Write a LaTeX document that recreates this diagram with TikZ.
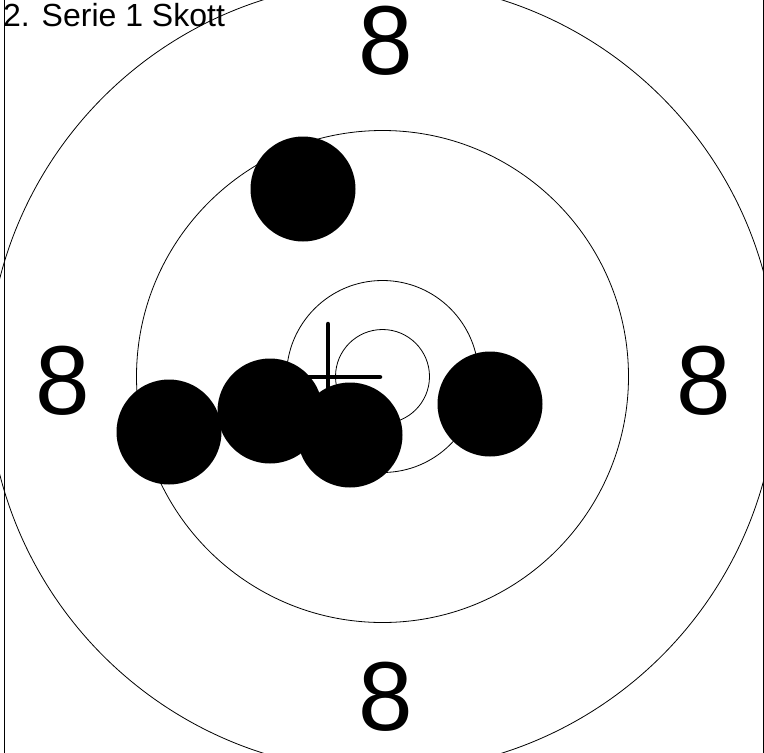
\documentclass[tikz,border=0pt]{standalone}
\usepackage{fontspec}
\setmainfont{Liberation Sans}
\begin{document}
\begin{tikzpicture}[x=1pt,y=-1pt,
  ring/.style={draw=black,line width=0.8pt},
  shot/.style={fill=black},
  bigdigit/.style={inner sep=0pt,font=\fontsize{98}{108}\selectfont},
  edge/.style={draw=black,line width=1pt}]
\useasboundingbox (0,0) rectangle (764,753);
\begin{scope}
\clip (0,0) rectangle (764,753);
\coordinate (c) at (382.5,376.5);
\draw[ring] (c) circle[radius=395];
\draw[ring] (c) circle[radius=246];
\draw[ring] (c) circle[radius=96];
\draw[ring] (c) circle[radius=47];
\end{scope}
\coordinate (tl) at (4,0);
\coordinate (bl) at (4,753);
\coordinate (tr) at (763,0);
\coordinate (br) at (763,753);
\draw[edge] (tl) -- (bl);
\draw[edge] (tr) -- (br);
\node[anchor=north west,inner sep=0pt,font=\fontsize{32}{36}\selectfont] (title) at (3,3) {2. Serie 1 Skott};
\node[bigdigit] (n8top) at (386,41) {8};
\node[bigdigit] (n8left) at (63,381) {8};
\node[bigdigit] (n8right) at (704,381) {8};
\node[bigdigit] (n8bot) at (386,697) {8};
\coordinate (xt) at (328,324);
\coordinate (xb) at (328,430);
\coordinate (xl) at (275,377);
\coordinate (xr) at (380,377);
\draw[line width=4.5pt,line cap=round] (xt) -- (xb);
\draw[line width=4.5pt,line cap=round] (xl) -- (xr);
\fill[shot] (303,189) circle[radius=52.5];
\fill[shot] (169,432) circle[radius=52.5];
\fill[shot] (270,411) circle[radius=52.5];
\fill[shot] (350,435) circle[radius=52.5];
\fill[shot] (490,404) circle[radius=52.5];
\end{tikzpicture}
\end{document}
